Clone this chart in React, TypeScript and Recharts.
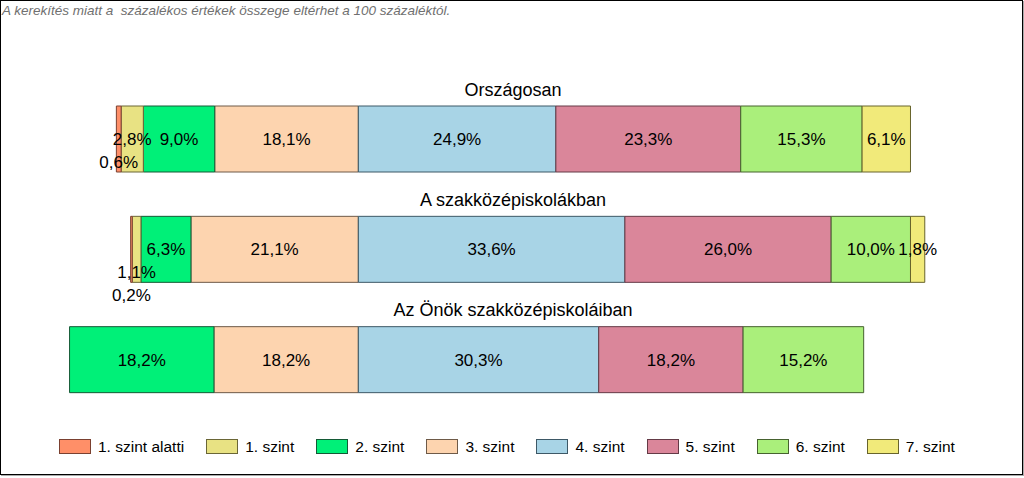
import React from 'react';
import { BarChart, Bar, XAxis, YAxis, LabelList } from 'recharts';

const categories = ['Országosan', 'A szakközépiskolákban', 'Az Önök szakközépiskoláiban'];
const levels = ['1. szint alatti', '1. szint', '2. szint', '3. szint', '4. szint', '5. szint', '6. szint', '7. szint'];
const fillColors = ['#FF8F68', '#E8E283', '#00F078', '#FDD4AF', '#A8D4E6', '#DA869A', '#AAEF7B', '#F1EA7A'];
const strokeColors = ['#7a4030', '#6a6636', '#145a36', '#6e5a48', '#3d5866', '#643a46', '#46622f', '#68642c'];

const orszagosan = [0.6, 2.8, 9.0, 18.1, 24.9, 23.3, 15.3, 6.1];
const szakkozep = [0.2, 1.1, 6.3, 21.1, 33.6, 26.0, 10.0, 1.8];
const onok = [0, 0, 18.2, 18.2, 30.3, 18.2, 15.2, 0];
const rows = [orszagosan, szakkozep, onok];

const note = 'A kerekítés miatt a  százalékos értékek összege eltérhet a 100 százaléktól.';

// levels below "4. szint" are drawn to the left of the zero line, innermost first
const leftOrder = [3, 2, 1, 0];
const rightOrder = [4, 5, 6, 7];
const seriesOrder = [...leftOrder, ...rightOrder];

const FONT = '"Liberation Sans", Arial, sans-serif';
const LABEL_SIZE = 17;
const LINE_STEP = 23;
const TITLE_X = 513;

const data = categories.map((name, i) => {
  const row: Record<string, any> = { name };
  levels.forEach((_, l) => {
    const v = rows[i][l];
    row['l' + l] = leftOrder.includes(l) ? -v : v;
  });
  return row;
});

const fmt = (v: number) => v.toFixed(1).replace('.', ',') + '%';
const charW: Record<string, number> = { ',': 0.278, '%': 0.889 };
const textWidth = (s: string) =>
  s.split('').reduce((a, c) => a + (charW[c] ?? 0.556), 0) * LABEL_SIZE;

function shiftLevel(rowIdx: number, level: number, pxPerUnit: number): number {
  const order = leftOrder.includes(level) ? leftOrder : rightOrder;
  const vals = rows[rowIdx];
  let cum = 0;
  const items: { l: number; c: number; w: number }[] = [];
  for (const l of order) {
    const v = vals[l];
    if (v > 0) items.push({ l, c: (cum + v / 2) * pxPerUnit, w: textWidth(fmt(v)) });
    cum += v;
  }
  const lv: number[] = [];
  items.forEach((it, k) => {
    if (k === 0) { lv.push(0); return; }
    const prev = items[k - 1];
    const gap = Math.abs(it.c - prev.c) - (it.w + prev.w) / 2;
    lv.push(gap < -2 ? lv[k - 1] + 1 : 0);
  });
  const idx = items.findIndex((it) => it.l === level);
  return idx >= 0 ? lv[idx] : 0;
}

const makeLabel = (level: number) => (props: any) => {
  const { x, y, width, height, index } = props;
  const rowIdx = typeof index === 'number' ? index : 0;
  const v = rows[rowIdx]?.[level];
  if (!v) return null;
  const pxPerUnit = Math.abs(Number(width)) / v;
  const s = shiftLevel(rowIdx, level, pxPerUnit);
  const cx = Number(x) + Number(width) / 2;
  const cy = Number(y) + Number(height) / 2 + s * LINE_STEP;
  return (
    <text x={cx} y={cy + 6} textAnchor="middle" fontSize={LABEL_SIZE} fontFamily={FONT} fill="#000">
      {fmt(v)}
    </text>
  );
};

const titleLabel = (props: any) => {
  const { y, height, index } = props;
  const rowIdx = typeof index === 'number' ? index : 0;
  const cy = Number(y) + Number(height) / 2;
  return (
    <text x={TITLE_X} y={cy - 43.5} textAnchor="middle" fontSize={18} fontFamily={FONT} fill="#000">
      {categories[rowIdx]}
    </text>
  );
};

export default function App() {
  return (
    <div style={{ position: 'absolute', left: 0, top: 0, width: 1024, height: 478, background: '#fff', overflow: 'hidden' }}>
      <div
        style={{
          position: 'absolute', left: 0, top: 0, width: 1023, height: 475, boxSizing: 'border-box',
          border: '1px solid #000', boxShadow: '1px 1px 0 #aaa',
        }}
      />
      <div
        style={{
          position: 'absolute', left: 2, top: 3, fontFamily: FONT, fontStyle: 'italic', fontSize: 13.5,
          color: '#707070', whiteSpace: 'pre', lineHeight: 'normal',
        }}
      >
        {note}
      </div>
      <div style={{ position: 'absolute', left: 0, top: 0 }}>
        <BarChart
          width={1024}
          height={478}
          data={data}
          layout="vertical"
          stackOffset="sign"
          margin={{ top: 84, right: 31, bottom: 63, left: 41 }}
        >
          <XAxis type="number" domain={[-40, 80]} allowDataOverflow hide />
          <YAxis type="category" dataKey="name" hide />
          {seriesOrder.map((l) => (
            <Bar
              key={l}
              dataKey={'l' + l}
              name={levels[l]}
              stackId="a"
              barSize={66}
              fill={fillColors[l]}
              stroke={strokeColors[l]}
              strokeWidth={1}
              isAnimationActive={false}
            >
              <LabelList dataKey={'l' + l} content={makeLabel(l)} />
              {l === 4 ? <LabelList dataKey="name" content={titleLabel} /> : null}
            </Bar>
          ))}
        </BarChart>
      </div>
      <div
        style={{
          position: 'absolute', left: 59, top: 438, display: 'flex', gap: 22,
          fontFamily: FONT, fontSize: 15.5, lineHeight: '17px', color: '#000',
        }}
      >
        {levels.map((name, l) => (
          <div key={name} style={{ display: 'flex', alignItems: 'center' }}>
            <div
              style={{
                width: 32, height: 15, boxSizing: 'border-box', background: fillColors[l],
                border: '1px solid ' + strokeColors[l], marginRight: 7,
              }}
            />
            <span style={{ whiteSpace: 'nowrap' }}>{name}</span>
          </div>
        ))}
      </div>
    </div>
  );
}
